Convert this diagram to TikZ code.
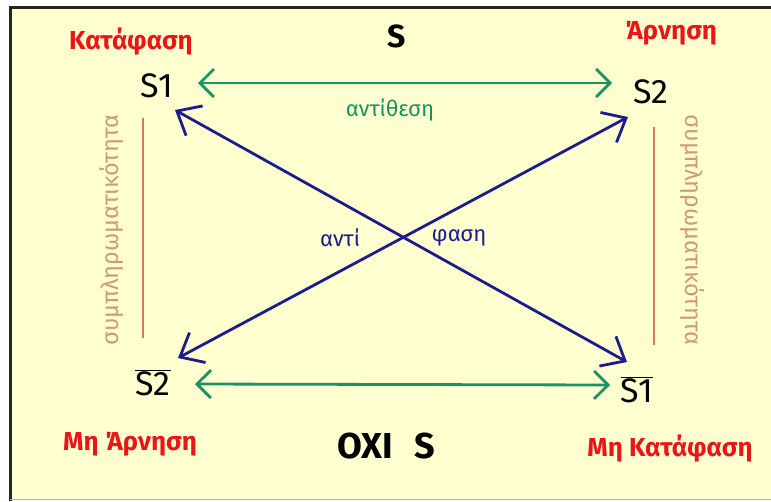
\documentclass[tikz,border=0pt]{standalone}
\usepackage{fontspec}
\setmainfont{Fira Sans}
\usetikzlibrary{arrows.meta}
\definecolor{sqyellow}{RGB}{255,255,208}
\definecolor{sqred}{RGB}{232,22,22}
\definecolor{sqgreen}{RGB}{28,146,98}
\definecolor{sqblue}{RGB}{28,28,140}
\definecolor{sqline}{RGB}{214,122,92}
\definecolor{sqtan}{RGB}{204,156,116}

\begin{document}
\begin{tikzpicture}[x=1pt,y=-1pt,
  cornerlbl/.style={inner sep=0pt,font=\fontsize{34}{34}\selectfont},
  redlbl/.style={inner sep=0pt,text=sqred,font=\fontsize{26}{26}\selectfont\bfseries},
  rellbl/.style={inner sep=0pt,font=\fontsize{22}{22}\selectfont},
  garr/.style={{Straight Barb[length=14pt,width=28pt]}-{Straight Barb[length=14pt,width=28pt]},sqgreen,line width=2.8pt},
  barr/.style={{Straight Barb[length=20pt,width=34pt]}-{Straight Barb[length=20pt,width=34pt]},sqblue,line width=2.8pt},
  oline/.style={sqline,line width=2.2pt}
]
\useasboundingbox (0,0) rectangle (771,501);
\fill[white] (0,0) rectangle (771,501);
\fill[sqyellow] (10,7) rectangle (771,499);
\draw[black!85,line width=3pt] (10,501) -- (10,7) -- (771,7);
\draw[black!30,line width=0.8pt] (10,499.5) -- (771,499.5);

% corners of the square
\node[cornerlbl] (s1) at (157,86) {S1};
\node[cornerlbl] (s2) at (651,92) {S2};
\node[cornerlbl] (s2n) at (153,383) {$\overline{\hbox{S2}}$};
\node[cornerlbl] (s1n) at (637,390) {$\overline{\hbox{S1}}$};

\node[redlbl] (kat) at (131,42) {Κατάφαση};
\node[redlbl] (arn) at (671,33) {Άρνηση};
\node[redlbl] (marn) at (130,444) {Μη Άρνηση};
\node[redlbl] (mkat) at (670,449) {Μη Κατάφαση};

\node[inner sep=0pt,font=\fontsize{32}{32}\selectfont\bfseries] (top) at (397,36) {S};
\node[inner sep=0pt,font=\fontsize{36}{36}\selectfont\bfseries] (bot) at (386,446) {ΟΧΙ\hspace{0.6em}S};

% relations
\draw[garr] ([shift={(41pt,3pt)}]s1.center) -- ([shift={(-39pt,9pt)}]s2.center);
\draw[garr] ([shift={(42pt,-1pt)}]s2n.center) -- ([shift={(-27pt,5pt)}]s1n.center);
\node[rellbl,text=sqgreen] (anti) at (390,110) {αντίθεση};

\draw[barr] ([shift={(18pt,-24pt)}]s1.center) -- ([shift={(-10pt,28pt)}]s1n.center);
\draw[barr] ([shift={(-23pt,-25pt)}]s2.center) -- ([shift={(25pt,25pt)}]s2n.center);
\node[rellbl,text=sqblue] (antl) at (340,238) {αντί};
\node[rellbl,text=sqblue] (antr) at (459,238) {φαση};

\draw[oline] ([shift={(-14pt,-32pt)}]s1.center) -- ([shift={(-10pt,45pt)}]s2n.center);
\draw[oline] ([shift={(3pt,-35pt)}]s2.center) -- ([shift={(17pt,45pt)}]s1n.center);
\node[rellbl,text=sqtan,rotate=90,font=\fontsize{23.5}{23.5}\selectfont] (compl) at (112,230) {συμπληρωματικότητα};
\node[rellbl,text=sqtan,rotate=-90,font=\fontsize{23.5}{23.5}\selectfont] (compr) at (692,230) {συμπληρωματικότητα};
\end{tikzpicture}
\end{document}
